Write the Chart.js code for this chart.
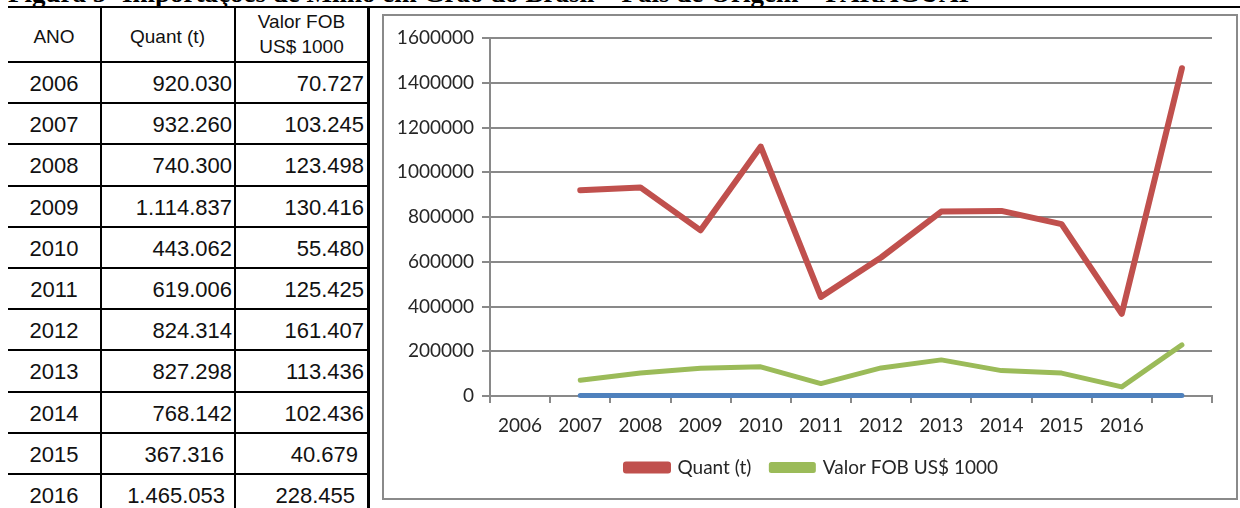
<!DOCTYPE html>
<html>
<head>
<meta charset="utf-8">
<script src="https://cdn.jsdelivr.net/npm/chart.js@4/dist/chart.umd.min.js"></script>
<style>
  body { margin: 0; width: 1240px; height: 508px; overflow: hidden; background: #fff; position: relative; }
  .abs { position: absolute; }
  .title { left: 8px; top: -20px; font: bold 27px "Liberation Serif", "Times New Roman", serif; line-height: 27px; white-space: nowrap; color: #000; }
  .cell { position: absolute; font-family: "Liberation Sans", Arial, sans-serif; color: #111; white-space: nowrap; }
  .hline { position: absolute; background: #000; height: 2px; }
  .vline { position: absolute; background: #000; }
  #frame { left: 382px; top: 14px; width: 856px; height: 486px; border: 2px solid #8a8a8a; box-sizing: border-box; }
  #frame canvas { display: block; }
</style>
</head>
<body>
<div class="abs title">Figura 5- Importações de Milho em Grão do Brasil – País de Origem – PARAGUAI</div>
<div id="table"></div>
<div id="frame" class="abs"><canvas id="chart" width="852" height="482"></canvas></div>
<script>
const years = ['2006', '2007', '2008', '2009', '2010', '2011', '2012', '2013', '2014', '2015', '2016'];
const quant = [920030, 932260, 740300, 1114837, 443062, 619006, 824314, 827298, 768142, 367316, 1465053];
const valorFob = [70727, 103245, 123498, 130416, 55480, 125425, 161407, 113436, 102436, 40679, 228455];
const yTicks = [0, 200000, 400000, 600000, 800000, 1000000, 1200000, 1400000, 1600000];

// pt-BR style thousands separator
function fmt(n) {
  return String(n).replace(/\B(?=(\d{3})+(?!\d))/g, '.');
}

// ---- table on the left ----
const table = document.getElementById('table');
function add(html, cls, css) {
  const d = document.createElement('div');
  d.className = cls;
  d.innerHTML = html;
  Object.assign(d.style, css);
  table.appendChild(d);
}
const rowTop = 62, rowH = 41.2;
add('', 'hline', { left: '8px', top: '6px', width: '1232px' });
add('', 'vline', { left: '100px', top: '8px', width: '1.5px', height: '500px' });
add('', 'vline', { left: '234px', top: '8px', width: '2px', height: '500px' });
add('', 'vline', { left: '367px', top: '8px', width: '2.5px', height: '500px' });

add('ANO', 'cell', { left: '8px', width: '92px', top: '26px', textAlign: 'center', fontSize: '19px', lineHeight: '22px' });
add('Quant (t)', 'cell', { left: '101px', width: '133px', top: '26px', textAlign: 'center', fontSize: '19px', lineHeight: '22px' });
add('Valor FOB<br>US$ 1000', 'cell', { left: '236px', width: '131px', top: '9px', textAlign: 'center', fontSize: '19px', lineHeight: '25px' });

years.forEach((y, i) => {
  const top = rowTop + i * rowH;
  add('', 'hline', { left: '8px', top: (top - 1) + 'px', width: '361px' });
  const inset2 = i === 9 ? 10 : i === 10 ? 9 : 2;
  const inset3 = i === 9 ? 9 : i === 10 ? 12 : 3;
  const css = { top: (top + 2) + 'px', fontSize: '22px', lineHeight: (rowH - 2) + 'px' };
  add(y, 'cell', Object.assign({ left: '8px', width: '92px', textAlign: 'center' }, css));
  add(fmt(quant[i]), 'cell', Object.assign({ left: '101px', width: (133 - inset2) + 'px', textAlign: 'right' }, css));
  add(fmt(valorFob[i]), 'cell', Object.assign({ left: '236px', width: (131 - inset3) + 'px', textAlign: 'right' }, css));
});

// ---- chart ----
const labels = years.concat(['']);
const gray = '#898989';
const font = { family: 'Lato', size: 19 };

// nudge the legend a bit to the right, as in the original
const legendShift = {
  id: 'legendShift',
  afterLayout(chart) {
    chart.legend.left += 14;
    chart.legend.right += 14;
  }
};

new Chart(document.getElementById('chart'), {
  type: 'line',
  data: {
    labels: labels,
    datasets: [
      {
        label: 'Quant (t)',
        data: [null].concat(quant),
        borderColor: '#C0504D',
        backgroundColor: '#C0504D',
        borderWidth: 6
      },
      {
        label: 'Valor FOB US$ 1000',
        data: [null].concat(valorFob),
        borderColor: '#9BBB59',
        backgroundColor: '#9BBB59',
        borderWidth: 5
      },
      {
        label: 'ANO',
        data: [null].concat(years.map(Number)),
        borderColor: '#4F81BD',
        backgroundColor: '#4F81BD',
        borderWidth: 5,
        clip: false
      }
    ]
  },
  plugins: [legendShift],
  options: {
    responsive: false,
    animation: false,
    elements: {
      line: { tension: 0, borderCapStyle: 'round', borderJoinStyle: 'round' },
      point: { radius: 0, hoverRadius: 0 }
    },
    layout: { padding: { top: 22, right: 24, left: 0, bottom: 11 } },
    plugins: {
      tooltip: { enabled: false },
      legend: {
        position: 'bottom',
        labels: {
          font: font,
          color: '#262626',
          boxWidth: 42,
          boxHeight: 6,
          padding: 20,
          filter: item => item.datasetIndex < 2
        }
      }
    },
    scales: {
      x: {
        offset: true,
        grid: { offset: true, drawOnChartArea: false, color: gray, lineWidth: 2, tickLength: 7 },
        border: { color: gray, width: 2 },
        ticks: { font: font, color: '#262626', maxRotation: 0, autoSkip: false, padding: 11 },
        afterFit: s => { s.height = 42; }
      },
      y: {
        min: 0,
        max: 1600000,
        afterBuildTicks: s => { s.ticks = yTicks.map(v => ({ value: v })); },
        grid: { color: gray, lineWidth: 2, tickLength: 8 },
        border: { color: gray, width: 2 },
        ticks: { font: font, color: '#262626', padding: 8, callback: v => String(v) },
        afterFit: s => { s.width = 106; }
      }
    }
  }
});
</script>
</body>
</html>
